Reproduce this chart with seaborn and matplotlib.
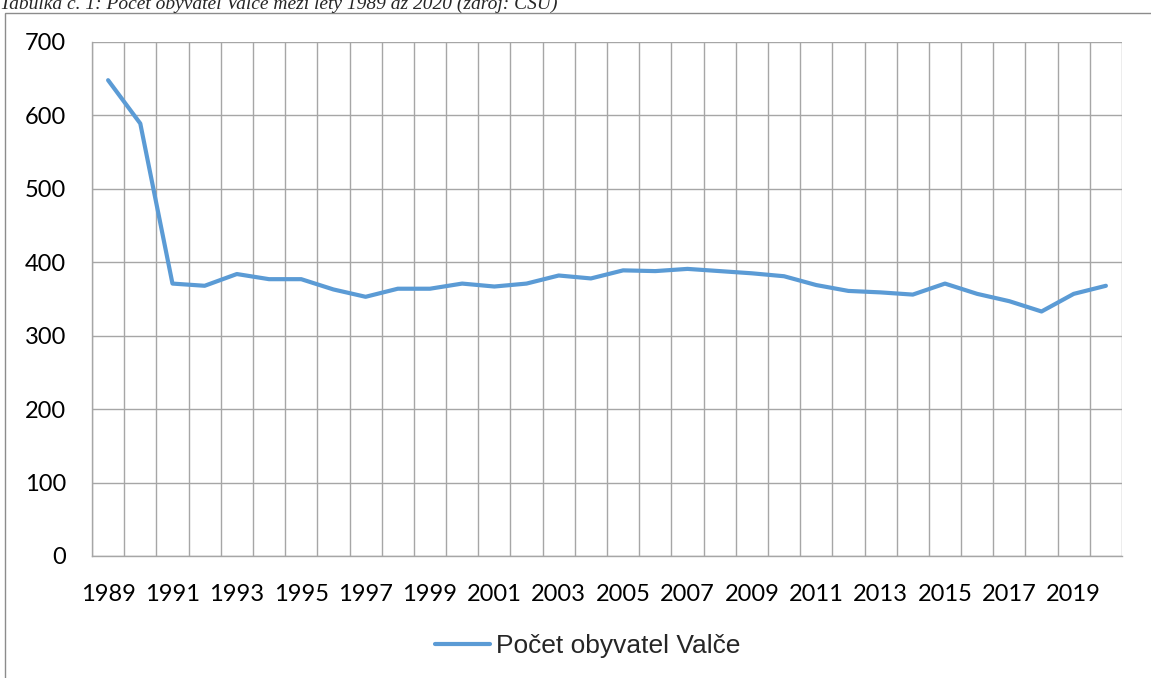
import numpy as np
import pandas as pd
import matplotlib
matplotlib.use("Agg")
import matplotlib.pyplot as plt
from matplotlib.patches import Rectangle
import seaborn as sns


YEARS = list( range(1989, 2021) )

POPULATION = [
    648, 589, 371, 368, 384, 377, 377, 363, 353, 364,
    364, 371, 367, 371, 382, 378, 389, 388, 391, 388,
    385, 381, 369, 361, 359, 356, 371, 357, 347, 333,
    357, 368
]

SERIES_NAME = "Počet obyvatel Valče"

TITLE = "Tabulka č. 1: Počet obyvatel Valče mezi lety 1989 až 2020 (zdroj: ČSÚ)"

Y_TICKS = [0, 100, 200, 300, 400, 500, 600, 700]

LINE_COLOR = "#5B9BD5"
GRID_COLOR = "#A6A6A6"

W, H = 1151, 678
DPI = 100


def main():

    sns.set_style( "white" )
    plt.rcParams["font.family"] = ["Lato", "DejaVu Sans"]

    df = pd.DataFrame( {"year": YEARS, "value": POPULATION} )

    fig = plt.figure( figsize=(W / DPI, H / DPI), dpi=DPI )

    # plot area in pixels: x 92..1122, y 42..556
    ax = fig.add_axes( [92 / W, 1 - 556 / H, (1122 - 92) / W, (556 - 42) / H] )

    sns.lineplot(
        data=df,
        x="year",
        y="value",
        color=LINE_COLOR,
        linewidth=3,
        ax=ax,
        label=SERIES_NAME,
        legend=False
    )

    ax.set_xlim( YEARS[0] - 0.5, YEARS[-1] + 0.5 )
    ax.set_ylim( 0, 700 )

    # -----------------------
    # Ticks and grid
    # -----------------------

    ax.set_yticks( Y_TICKS )
    ax.set_xticks( YEARS[::2] )
    ax.set_xticks( np.arange(YEARS[0] - 0.5, YEARS[-1] + 1), minor=True )

    ax.tick_params(
        axis="x", which="major", length=0, pad=20,
        labelsize=17, labelcolor="#000000"
    )
    ax.tick_params(
        axis="x", which="minor", length=6.5, width=1,
        color=GRID_COLOR, direction="out"
    )
    ax.tick_params(
        axis="y", which="major", length=6.5, width=1,
        color=GRID_COLOR, direction="out", pad=12,
        labelsize=17, labelcolor="#000000"
    )

    ax.grid( False )
    ax.grid( True, axis="y", which="major", color=GRID_COLOR, linewidth=1 )
    ax.grid( True, axis="x", which="minor", color=GRID_COLOR, linewidth=1 )

    ax.set_xlabel( "" )
    ax.set_ylabel( "" )

    for side in ["top", "right"]:
        ax.spines[side].set_visible( False )

    for side in ["left", "bottom"]:
        ax.spines[side].set_color( GRID_COLOR )
        ax.spines[side].set_linewidth( 1 )

    # -----------------------
    # Legend
    # -----------------------

    handles, labels = ax.get_legend_handles_labels()

    fig.legend(
        handles,
        labels,
        loc="center",
        bbox_to_anchor=(588 / W, 1 - 646 / H),
        frameon=False,
        prop={"family": "Liberation Sans", "size": 19},
        handlelength=2.05,
        handletextpad=0.25,
        borderpad=0
    )

    # -----------------------
    # Chart frame and cut title
    # -----------------------

    fig.patches.append(
        Rectangle(
            (5 / W, -0.1), 1.2, 1 - 12.5 / H + 0.1,
            transform=fig.transFigure,
            fill=False,
            edgecolor="#8C8C8C",
            linewidth=1
        )
    )

    fig.text(
        0, 1 - 9 / H,
        TITLE,
        family="Liberation Serif",
        style="italic",
        fontsize=14,
        va="baseline",
        ha="left"
    )

    fig.savefig( "out.png", dpi=DPI )


if __name__ == "__main__":
    main()
